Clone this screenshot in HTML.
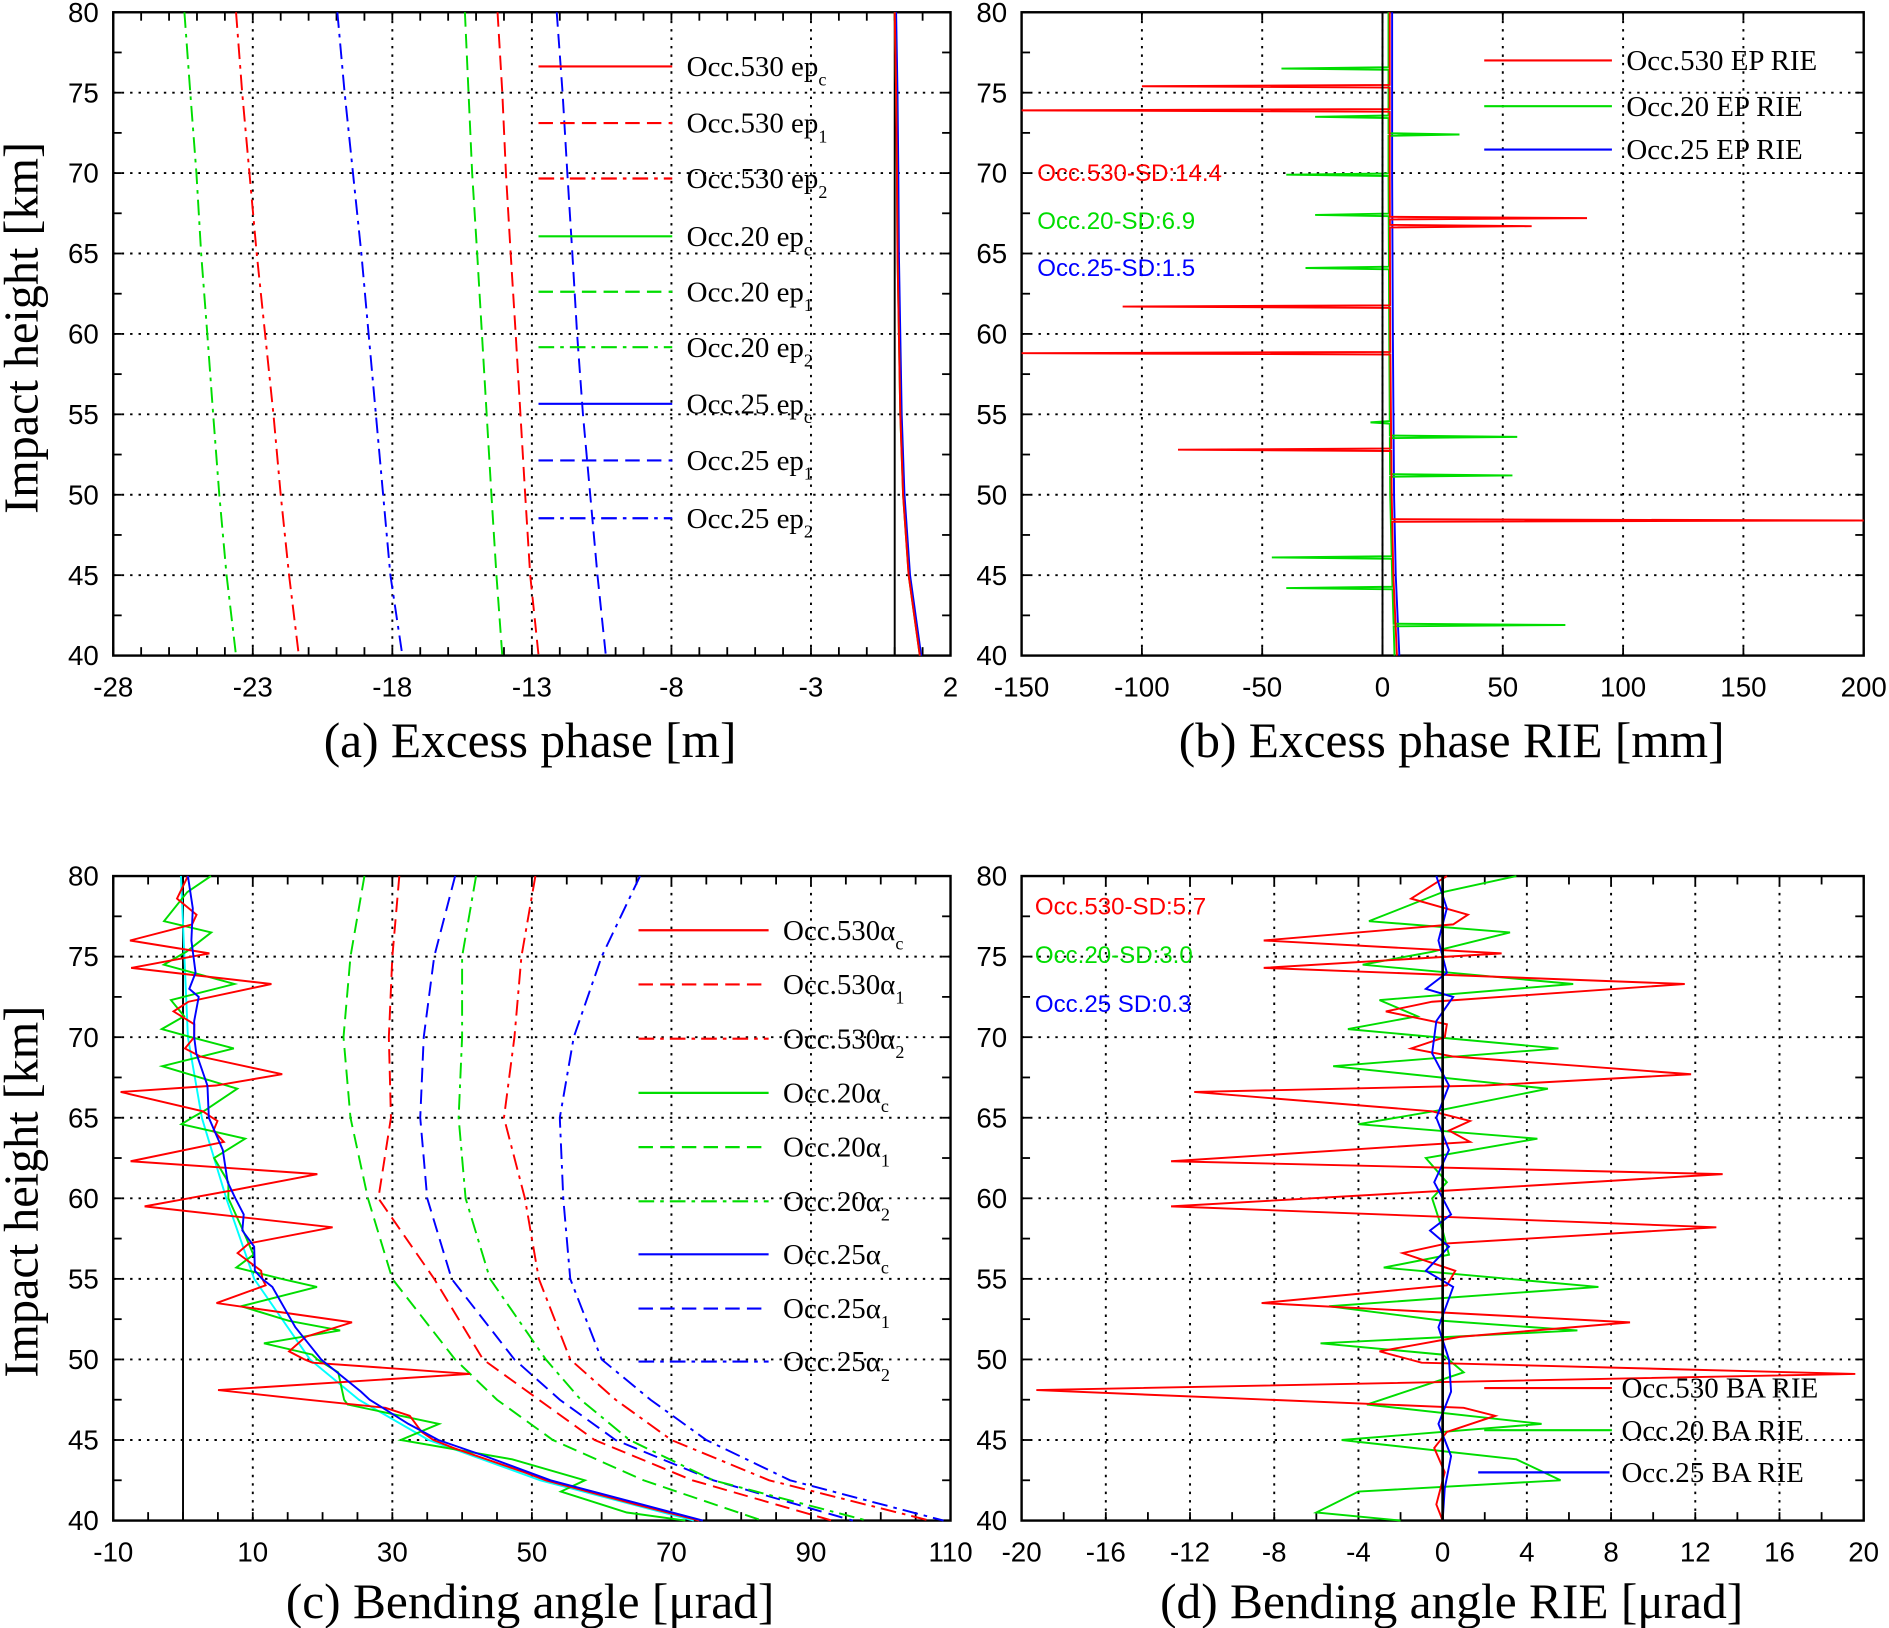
<!DOCTYPE html>
<html><head><meta charset="utf-8"><style>
html,body{margin:0;padding:0;background:#fff;}
svg{display:block;}
.tk{font-family:"Liberation Sans",sans-serif;font-size:23px;fill:#000;}
.ttl{font-family:"Liberation Serif",serif;font-size:41px;fill:#000;}
.yt{font-family:"Liberation Serif",serif;font-size:40px;fill:#000;}
.lg{font-family:"Liberation Serif",serif;font-size:24px;fill:#000;}
.sd{font-family:"Liberation Sans",sans-serif;font-size:20px;}
</style></head><body>
<svg id="fig" xmlns="http://www.w3.org/2000/svg" width="1889" height="1628" viewBox="0 0 1568 1351">
<rect x="0" y="0" width="1568" height="1351" fill="#fff"/>
<g id="layer"></g>
</svg>
<script>
// ---------- data ----------
const hA = [80,75,70,65,60,55,50,45,40];
const a20ep2 = [-25.45,-25.24,-25.02,-24.85,-24.63,-24.42,-24.20,-23.94,-23.60];
const a530ep2 = [-23.6,-23.38,-23.12,-22.86,-22.56,-22.26,-22.0,-21.70,-21.35];
const a25ep2 = [-19.97,-19.71,-19.41,-19.11,-18.85,-18.59,-18.33,-18.07,-17.64];
const a20ep1 = [-15.4,-15.27,-15.14,-14.96,-14.79,-14.62,-14.45,-14.27,-14.06];
const a530ep1 = [-14.23,-14.06,-13.93,-13.76,-13.58,-13.41,-13.24,-13.06,-12.76];
const a25ep1 = [-12.11,-11.9,-11.73,-11.55,-11.38,-11.17,-10.91,-10.65,-10.35];
const aEpc = [0.0,0.05,0.08,0.1,0.15,0.2,0.3,0.5,0.9];
const xTicksA = [-28,-23,-18,-13,-8,-3,2];
const yTicks = [40,45,50,55,60,65,70,75,80];
const hBbase = [80,70,60,50,45,40];
const bRedBase = [3,3,3.2,3.8,4.5,6];
const bGreenBase = [2.5,2.5,2.8,3.2,4,5];
const bBlueBase = [4,4,4.3,4.8,5.5,7];
const bRedSpikeH = [75.4,73.9,67.2,66.7,61.7,58.8,52.8,48.4];
const bRedSpikeV = [-100,-150,85,62,-108,-150,-85,200];
const bGreenSpikeH = [76.5,73.5,72.4,69.9,67.4,64.1,54.5,53.6,51.2,46.1,44.2,41.9];
const bGreenSpikeV = [-42,-28,32,-40,-28,-32,-5,56,54,-46,-40,76];
const xTicksB = [-150,-100,-50,0,50,100,150,200];
const hC = [80,75,70,65,60,55,50,47.5,45,42.5,40];
const cAlphaC = [0.5,1,1.5,3.5,7,11,19,26,36,52,74];
const c20a1 = [26,24,23,24,26.5,30,39,45,53,66,83];
const c530a1 = [31,30,29.5,29.8,28,36,43,51,59,73,93];
const c25a1 = [39,36,34.5,34,35,38.5,47.5,54,62,76,96];
const c20a2 = [42,40,40,39.5,40.5,44,52,57,64,76,98];
const c530a2 = [50.5,48.5,47.5,46,49,51,55.5,62,70,84,107];
const c25a2 = [65.5,60,56,54,54.5,55.5,60,67,75,87,109];
const xTicksC = [-10,10,30,50,70,90,110];
const dRedH = [80,78.6,77.6,77,76,75.2,74.3,73.3,72.2,71.6,70.8,70,69.3,68.8,67.7,67,66.6,65.4,64.8,64.2,63.5,62.3,61.5,60.5,59.5,58.2,57.2,56.6,55.5,54.6,53.5,52.3,51.4,50.5,49.8,49.1,48.1,47,46.5,45.5,44.5,43,41,40];
const dRedV = [0.2,-1.5,1.2,0.5,-8.5,2.8,-8.5,11.5,-0.5,-2.7,0.2,0.1,-1.5,0.5,11.8,2,-11.8,-0.5,1.3,0.3,1.3,-12.9,13.3,0.5,-12.9,13,0.2,-1.9,0.6,0.2,-8.6,8.9,0.8,-3,-1,19.6,-19.3,1,2.5,0.2,-0.4,0.1,-0.3,0];
const dGreenH = [80,79,77.2,76.5,75.3,74.5,73.3,72.3,71.3,70.5,69.3,68.2,66.8,65.5,64.6,63.7,62.5,61,60,58,56.5,55.7,54.5,53.3,52.4,51.8,51,50.3,49.2,47.2,46,45,43.8,42.5,41.8,40.5,40];
const dGreenV = [3.5,0,-3.5,3.2,-0.5,-3.8,6.2,-3,-1.2,-4.5,5.5,-5.2,5,0,-4,4.5,-0.8,0.2,-0.5,0,0.3,-2.8,7.4,-5.4,0,6.4,-5.8,0,1,-3.6,4.7,-4.8,3.5,5.6,-4,-6,-2];
const dBlueH = [80,78,76,74,73,72.5,71,69,67,65,63,61,59,58,57,55.5,54.5,52,50,48,46,44,42,40];
const dBlueV = [-0.3,0.2,-0.2,0.2,-0.8,0.5,-0.3,-0.5,0.3,-0.3,0.3,-0.4,0.4,-0.6,0.3,-0.8,0.5,-0.2,0.3,0.4,-0.2,0.4,0.1,0];
const xTicksD = [-20,-16,-12,-8,-4,0,4,8,12,16,20];

// ---------- helpers ----------
const NS = 'http://www.w3.org/2000/svg';
const layer = document.getElementById('layer');
function mk(tag, attrs, parent){
  const e = document.createElementNS(NS, tag);
  for (const k in attrs) e.setAttribute(k, attrs[k]);
  (parent||layer).appendChild(e);
  return e;
}
function interp(hs, vs, h){
  for (let i=0;i<hs.length-1;i++){
    const h0=hs[i], h1=hs[i+1];
    if ((h<=h0 && h>=h1)){
      const t=(h0-h)/(h0-h1||1);
      return vs[i]+(vs[i+1]-vs[i])*t;
    }
  }
  return vs[vs.length-1];
}
function makePanel(name, x0,x1,y0,y1, xmin,xmax, xticks, minorX){
  const g = mk('g',{});
  
  
  const sx = v => x0 + (v-xmin)/(xmax-xmin)*(x1-x0);
  const sy = h => y1 - (h-40)/40*(y1-y0);
  xticks.forEach((t,i)=>{
    if (i>0 && i<xticks.length-1){
      const l = mk('line',{x1:sx(t),x2:sx(t),y1:y0,y2:y1,stroke:'#000','stroke-width':1.6,'stroke-dasharray':'2,5'},g);
      
      
    }
    const tx = mk('text',{x:sx(t),y:y1+34,'text-anchor':'middle',class:'tk'},g);
    
    
    tx.textContent = t;
  });
  yTicks.forEach((t,i)=>{
    if (i>0 && i<yTicks.length-1){
      const l = mk('line',{x1:x0,x2:x1,y1:sy(t),y2:sy(t),stroke:'#000','stroke-width':1.6,'stroke-dasharray':'2,5'},g);
      
      
    }
    const tx = mk('text',{x:x0-12,y:sy(t)+8,'text-anchor':'end',class:'tk'},g);
    
    
    tx.textContent = t;
  });
  for (let h=40; h<=80; h+=2.5){
    mk('line',{x1:x0,x2:x0+7,y1:sy(h),y2:sy(h),stroke:'#000','stroke-width':1.5},g);
    mk('line',{x1:x1,x2:x1-7,y1:sy(h),y2:sy(h),stroke:'#000','stroke-width':1.5},g);
  }
  const step = (xticks[1]-xticks[0])/minorX;
  for (let v=xmin; v<=xmax+1e-9; v+=step){
    mk('line',{x1:sx(v),x2:sx(v),y1:y1,y2:y1-7,stroke:'#000','stroke-width':1.5},g);
    mk('line',{x1:sx(v),x2:sx(v),y1:y0,y2:y0+7,stroke:'#000','stroke-width':1.5},g);
  }
  const frame = mk('rect',{x:x0,y:y0,width:x1-x0,height:y1-y0,fill:'none',stroke:'#000','stroke-width':2},g);
  
  
  return {g,sx,sy,x0,x1,y0,y1};
}
function line(p, pts, color, dash, w){
  const d = pts.map((q,i)=>(i?'L':'M')+p.sx(q[0]).toFixed(2)+','+p.sy(q[1]).toFixed(2)).join(' ');
  const a = {d:d,fill:'none',stroke:color,'stroke-width':w||1.6};
  if (dash) a['stroke-dasharray']=dash;
  return mk('path',a,p.g);
}
function series(p, hs, vs, color, dash, name){
  const pts = hs.map((h,i)=>[vs[i],h]);
  const e = line(p, pts, color, dash);
  
  
  return e;
}
function text(x,y,str,cls,fill,name,anchor){
  const t = mk('text',{x:x,y:y,class:cls,fill:fill||'#000','text-anchor':anchor||'start'});
  
  
  t.textContent = str;
  return t;
}
function legendEntry(p, lx0, lx1, y, color, dash, label, sub, name, lblX){
  const l = mk('line',{x1:lx0,x2:lx1,y1:y,y2:y,stroke:color,'stroke-width':1.8},p.g);
  if (dash) l.setAttribute('stroke-dasharray', dash);
  
  
  const t = mk('text',{x:lblX,y:y+8,class:'lg'},p.g);
  
  
  t.appendChild(document.createTextNode(label));
  if (sub){
    const s = document.createElementNS(NS,'tspan');
    s.setAttribute('dy','8'); s.setAttribute('font-size','15');
    s.textContent = sub;
    t.appendChild(s);
  }
}
const DASH='12,6', DASHDOT='13,5,3,5';

// ---------- panel (a) ----------
const pa = makePanel('panel-a-excess-phase', 94,789,10,544, -28,2, xTicksA, 5);
series(pa,hA,a20ep2,'#00dd00',DASHDOT,'occ20-ep2-line');
series(pa,hA,a530ep2,'#ff0000',DASHDOT,'occ530-ep2-line');
series(pa,hA,a25ep2,'#0000ff',DASHDOT,'occ25-ep2-line');
series(pa,hA,a20ep1,'#00dd00',DASH,'occ20-ep1-line');
series(pa,hA,a530ep1,'#ff0000',DASH,'occ530-ep1-line');
series(pa,hA,a25ep1,'#0000ff',DASH,'occ25-ep1-line');
(function(){const z=mk('line',{x1:pa.sx(0),x2:pa.sx(0),y1:10,y2:544,stroke:'#000','stroke-width':1.6},pa.g);})();
series(pa,hA,aEpc.map(v=>v+0.05),'#0000ff',null,'occ25-epc-line');
series(pa,hA,aEpc,'#00dd00',null,'occ20-epc-line');
series(pa,hA,aEpc,'#ff0000',null,'occ530-epc-line');
const legA=[['Occ.530 ep','c','#ff0000',null],['Occ.530 ep','1','#ff0000',DASH],['Occ.530 ep','2','#ff0000',DASHDOT],
['Occ.20 ep','c','#00dd00',null],['Occ.20 ep','1','#00dd00',DASH],['Occ.20 ep','2','#00dd00',DASHDOT],
['Occ.25 ep','c','#0000ff',null],['Occ.25 ep','1','#0000ff',DASH],['Occ.25 ep','2','#0000ff',DASHDOT]];
const legAy=[55,102,148,196,242,288,335,382,430];
legA.forEach((e,i)=>legendEntry(pa,447,558,legAy[i],e[2],e[3],e[0],e[1],'legend-entry-a-'+i,570));

// ---------- panel (b) ----------
const pb = makePanel('panel-b-excess-phase-rie', 848,1547,10,544, -150,200, xTicksB, 1);
function spikeSeries(p, baseH, baseV, sH, sV, color, name){
  const pts=[];
  const hs=[];
  for (let h=80; h>=40; h-=0.5) hs.push(h);
  sH.forEach(h=>{hs.push(h+0.08);hs.push(h);hs.push(h-0.08);});
  hs.sort((a,b)=>b-a);
  hs.forEach(h=>{
    const k = sH.findIndex(s=>Math.abs(s-h)<1e-6);
    const bv = interp(baseH, baseV, h);
    pts.push([k>=0? sV[k] : bv, h]);
  });
  const e=line(p,pts,color,null,1.6);
  
  
}
spikeSeries(pb,hBbase,bBlueBase,[],[],'#0000ff','occ25-ep-rie-line');
spikeSeries(pb,hBbase,bGreenBase,bGreenSpikeH,bGreenSpikeV,'#00dd00','occ20-ep-rie-line');
spikeSeries(pb,hBbase,bRedBase,bRedSpikeH,bRedSpikeV,'#ff0000','occ530-ep-rie-line');
(function(){const z=mk('line',{x1:pb.sx(0),x2:pb.sx(0),y1:10,y2:544,stroke:'#000','stroke-width':1.6},pb.g);})();
legendEntry(pb,1232,1338,50,'#ff0000',null,'Occ.530 EP RIE','','legend-entry-b-530',1350);
legendEntry(pb,1232,1338,88,'#00dd00',null,'Occ.20 EP RIE','','legend-entry-b-20',1350);
legendEntry(pb,1232,1338,124,'#0000ff',null,'Occ.25 EP RIE','','legend-entry-b-25',1350);
text(861,150,'Occ.530-SD:14.4','sd','#ff0000','sd-label-530');
text(861,190,'Occ.20-SD:6.9','sd','#00dd00','sd-label-20');
text(861,229,'Occ.25-SD:1.5','sd','#0000ff','sd-label-25');

// ---------- panel (c) ----------
const pc = makePanel('panel-c-bending-angle', 94,789,727,1262, -10,110, xTicksC, 4);
(function(){const z=mk('line',{x1:pc.sx(0),x2:pc.sx(0),y1:727,y2:1262,stroke:'#000','stroke-width':1.6},pc.g);})();
series(pc,hC,c20a1,'#00dd00',DASH,'occ20-a1-line');
series(pc,hC,c530a1,'#ff0000',DASH,'occ530-a1-line');
series(pc,hC,c25a1,'#0000ff',DASH,'occ25-a1-line');
series(pc,hC,c20a2,'#00dd00',DASHDOT,'occ20-a2-line');
series(pc,hC,c530a2,'#ff0000',DASHDOT,'occ530-a2-line');
series(pc,hC,c25a2,'#0000ff',DASHDOT,'occ25-a2-line');
function combined(p, rH, rV, color, name, off){
  const hs=[...new Set([...rH, ...hC])].sort((a,b)=>b-a);
  const pts=hs.map(h=>[interp(hC,cAlphaC,h)+interp(rH,rV,h)+(off||0),h]);
  const e=line(p,pts,color,null,1.6);
  
  
}
series(pc,hC,cAlphaC.map(v=>v-0.8),'#00ffff',null,'reference-alpha-line');
combined(pc,dGreenH,dGreenV,'#00dd00','occ20-ac-line');
combined(pc,dRedH,dRedV,'#ff0000','occ530-ac-line');
combined(pc,dBlueH,dBlueV,'#0000ff','occ25-ac-line',0.5);
const legC=[['Occ.530α','c','#ff0000',null],['Occ.530α','1','#ff0000',DASH],['Occ.530α','2','#ff0000',DASHDOT],
['Occ.20α','c','#00dd00',null],['Occ.20α','1','#00dd00',DASH],['Occ.20α','2','#00dd00',DASHDOT],
['Occ.25α','c','#0000ff',null],['Occ.25α','1','#0000ff',DASH],['Occ.25α','2','#0000ff',DASHDOT]];
const legCy=[772,817,862,907,952,997,1041,1086,1130];
legC.forEach((e,i)=>legendEntry(pc,530,638,legCy[i],e[2],e[3],e[0],e[1],'legend-entry-c-'+i,650));

// ---------- panel (d) ----------
const pd = makePanel('panel-d-bending-angle-rie', 848,1547,727,1262, -20,20, xTicksD, 2);
series(pd,dGreenH,dGreenV,'#00dd00',null,'occ20-ba-rie-line');
series(pd,dRedH,dRedV,'#ff0000',null,'occ530-ba-rie-line');
series(pd,dBlueH,dBlueV,'#0000ff',null,'occ25-ba-rie-line');
(function(){const z=mk('line',{x1:pd.sx(0),x2:pd.sx(0),y1:727,y2:1262,stroke:'#000','stroke-width':2.2},pd.g);})();
legendEntry(pd,1232,1338,1152,'#ff0000',null,'Occ.530 BA RIE','','legend-entry-d-530',1346);
legendEntry(pd,1232,1338,1187,'#00dd00',null,'Occ.20 BA RIE','','legend-entry-d-20',1346);
legendEntry(pd,1227,1336,1222,'#0000ff',null,'Occ.25 BA RIE','','legend-entry-d-25',1346);
text(859,759,'Occ.530-SD:5.7','sd','#ff0000','sd-label-d-530');
text(859,799,'Occ.20-SD:3.0','sd','#00dd00','sd-label-d-20');
text(859,840,'Occ.25 SD:0.3','sd','#0000ff','sd-label-d-25');

// ---------- titles ----------
text(440,628,'(a) Excess phase [m]','ttl','#000','panel-a-title','middle');
text(1205,628,'(b) Excess phase RIE [mm]','ttl','#000','panel-b-title','middle');
text(440,1343,'(c) Bending angle [μrad]','ttl','#000','panel-c-title','middle');
text(1205,1343,'(d) Bending angle RIE [μrad]','ttl','#000','panel-d-title','middle');
const yl1=text(0,0,'Impact height [km]','yt','#000','y-axis-title-top','middle');
yl1.setAttribute('transform','translate(31,272) rotate(-90)');
const yl2=text(0,0,'Impact height [km]','yt','#000','y-axis-title-bottom','middle');
yl2.setAttribute('transform','translate(31,989) rotate(-90)');
</script>
</body></html>
